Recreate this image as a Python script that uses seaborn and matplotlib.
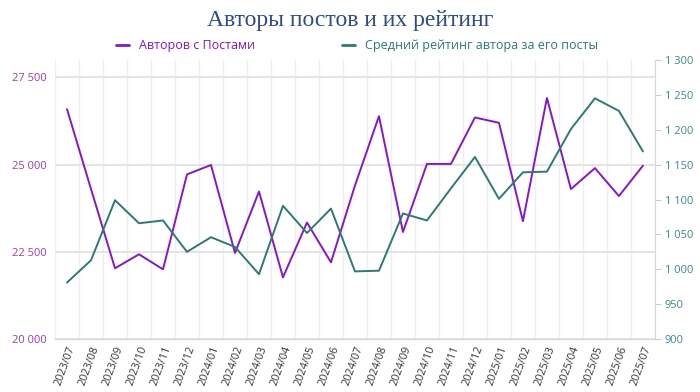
import numpy as np
import pandas as pd
import seaborn as sns
import matplotlib.pyplot as plt
from matplotlib.lines import Line2D
from matplotlib.ticker import FuncFormatter, MultipleLocator

# Data
months = ['2023/07', '2023/08', '2023/09', '2023/10', '2023/11', '2023/12',
          '2024/01', '2024/02', '2024/03', '2024/04', '2024/05', '2024/06',
          '2024/07', '2024/08', '2024/09', '2024/10', '2024/11', '2024/12',
          '2025/01', '2025/02', '2025/03', '2025/04', '2025/05', '2025/06',
          '2025/07']
authors = [26590, 24300, 22030, 22430, 22000, 24720,
           24990, 22470, 24230, 21770, 23340, 22200,
           24400, 26390, 23070, 25020, 25020, 26350,
           26200, 23380, 26910, 24300, 24900, 24100,
           24970]
rating = [981, 1013, 1099, 1066, 1070, 1025,
          1046, 1032, 993, 1091, 1052, 1087,
          997, 998, 1080, 1070, 1116, 1161,
          1101, 1139, 1140, 1201, 1245, 1227,
          1169]

label_authors = 'Авторов с Постами'
label_rating = 'Средний рейтинг автора за его посты'
purple = '#8716c8'
teal = '#2b7a73'

df = pd.DataFrame({'month': months, 'authors': authors, 'rating': rating})

sns.set_style('white')
plt.rcParams['font.family'] = ['Open Sans', 'DejaVu Sans']

fig = plt.figure(figsize=(7, 3.92), dpi=100)
ax = fig.add_axes([0.0786, 0.135, 0.857, 0.712])
ax2 = ax.twinx()

sns.lineplot(data=df, x='month', y='authors', ax=ax, color=purple, linewidth=1.4, sort=False)
sns.lineplot(data=df, x='month', y='rating', ax=ax2, color=teal, linewidth=1.4, sort=False)

ax.set_xlim(-0.5, len(months) - 0.5)
ax.set_ylim(20000, 28000)
ax2.set_ylim(900, 1300)
ax.set_yticks([20000, 22500, 25000, 27500])
ax2.yaxis.set_major_locator(MultipleLocator(50))

fmt = FuncFormatter(lambda v, p: f'{v:,.0f}'.replace(',', ' '))
ax.yaxis.set_major_formatter(fmt)
ax2.yaxis.set_major_formatter(fmt)

ax.set_xticks(range(len(months)))
ax.set_xticklabels(months, rotation=70, ha='right', rotation_mode='anchor', fontsize=7.8, color='#333333')
ax.tick_params(axis='x', length=0, pad=4)
ax.tick_params(axis='y', length=0, labelsize=8, labelcolor='#a23ab0', pad=6)
ax2.tick_params(axis='y', length=4, color='#cccccc', labelsize=8, labelcolor='#3a8c8c', pad=3)

# grid: horizontal on left ticks, vertical between categories
ax.set_xticks(np.arange(-0.5, len(months), 1), minor=True)
ax.grid(axis='x', which='minor', color='#efefef', linewidth=1)
ax.grid(axis='y', which='major', color='#e4e4e4', linewidth=1.5)
ax.set_axisbelow(True)

for a in (ax, ax2):
    a.set_xlabel('')
    a.set_ylabel('')
    for s in ['top', 'left']:
        a.spines[s].set_visible(False)
    a.spines['bottom'].set_color('#d8d8d8')
    a.spines['right'].set_color('#d8d8d8')
ax.spines['right'].set_visible(False)

fig.suptitle('Авторы постов и их рейтинг', fontsize=17, color='#2e4b8b',
             family='Liberation Serif', y=0.975)

handles = [Line2D([0], [0], color=purple, lw=2),
           Line2D([0], [0], color=teal, lw=2)]
leg = fig.legend(handles, [label_authors, label_rating], loc='center', ncol=2,
                 bbox_to_anchor=(0.51, 0.883), frameon=False, fontsize=9,
                 handlelength=1.0, handletextpad=0.8, columnspacing=7)
for txt, c in zip(leg.get_texts(), [purple, teal]):
    txt.set_color(c)

fig.savefig('out.png', dpi=100)
